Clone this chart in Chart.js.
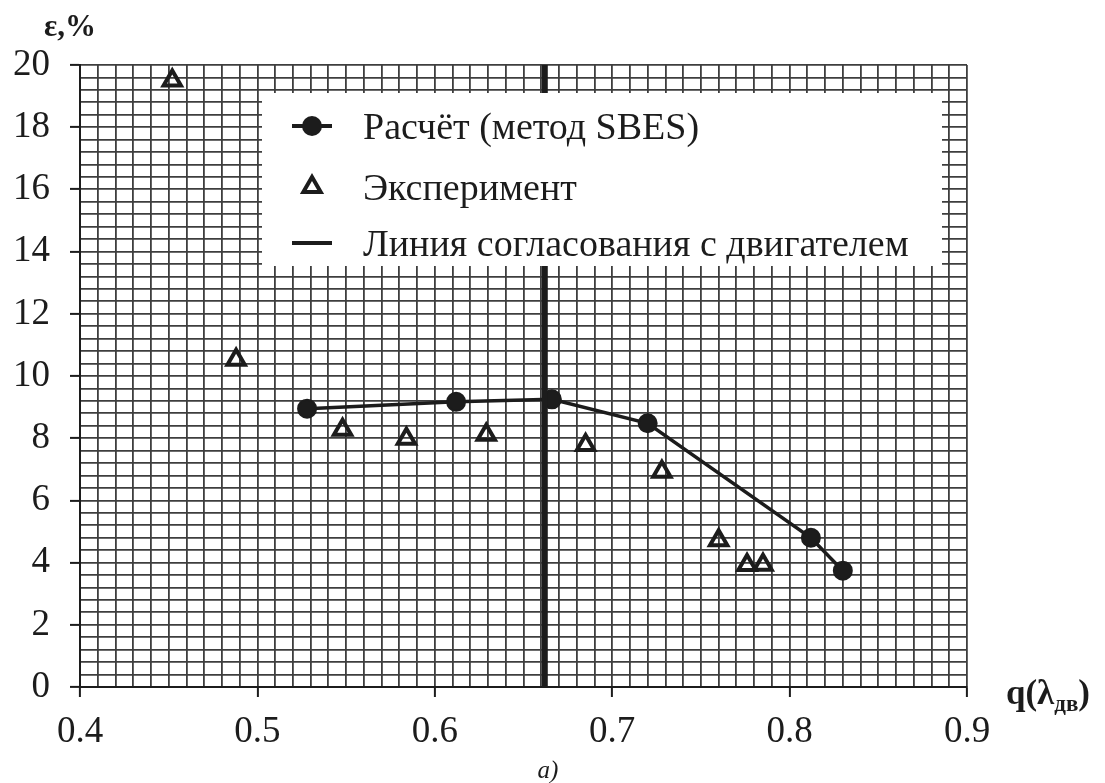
<!DOCTYPE html>
<html>
<head>
<meta charset="utf-8">
<script src="https://cdn.jsdelivr.net/npm/chart.js@4/dist/chart.umd.min.js"></script>
<style>
  html, body { margin: 0; padding: 0; background: #fff; }
  #wrap { width: 1105px; height: 783px; }
</style>
</head>
<body>
<div id="wrap"><canvas id="chart" width="1105" height="783"></canvas></div>
<script>
// расчёт (метод SBES)
const calcX = [0.528, 0.612, 0.666, 0.720, 0.812, 0.830];
const calcY = [8.95, 9.17, 9.25, 8.48, 4.80, 3.74];

// эксперимент
const expX = [0.452, 0.488, 0.548, 0.584, 0.629, 0.685, 0.728, 0.760, 0.776, 0.785];
const expY = [19.5, 10.52, 8.27, 7.98, 8.11, 7.78, 6.92, 4.72, 3.92, 3.93];

// линия согласования с двигателем
const matchX = [0.662, 0.662];
const matchY = [0, 20];

const xTicks = [0.4, 0.9, 0.01];   // min, max, шаг сетки
const yTicks = [0, 20, 0.4];

const seriesNames = ['Расчёт (метод SBES)', 'Эксперимент', 'Линия согласования с двигателем'];

const INK = '#1c1c1c';
const GRID = '#3e3e3e';
const SERIF = '"Liberation Serif", "DejaVu Serif", serif';

const toXY = (xs, ys) => xs.map((x, i) => ({ x: x, y: ys[i] }));

const isMajorX = v => Math.abs(v * 10 - Math.round(v * 10)) < 1e-6;
const isMajorY = v => Math.abs(v / 2 - Math.round(v / 2)) < 1e-6;

// легенда внутри поля графика + подписи осей
const extras = {
  id: 'extras',
  afterDatasetsDraw(chart) {
    const ctx = chart.ctx;
    const a = chart.chartArea;
    const bx = a.left + 182, by = a.top + 28, bw = 680, bh = 173;
    ctx.save();
    ctx.fillStyle = '#fff';
    ctx.fillRect(bx, by, bw, bh);

    const mx = a.left + 232, tx = a.left + 283;
    const rows = [a.top + 61, a.top + 122, a.top + 178];
    ctx.strokeStyle = INK;
    ctx.fillStyle = INK;

    // строка 1: линия с кружком
    ctx.lineWidth = 4;
    ctx.beginPath();
    ctx.moveTo(mx - 20, rows[0]); ctx.lineTo(mx + 20, rows[0]);
    ctx.stroke();
    ctx.beginPath();
    ctx.arc(mx, rows[0], 10, 0, Math.PI * 2);
    ctx.fill();

    // строка 2: треугольник
    const r = 10;
    ctx.lineWidth = 4;
    ctx.lineJoin = 'miter';
    ctx.beginPath();
    ctx.moveTo(mx, rows[1] - r);
    ctx.lineTo(mx + r * Math.sin(2 * Math.PI / 3), rows[1] - r * Math.cos(2 * Math.PI / 3));
    ctx.lineTo(mx + r * Math.sin(4 * Math.PI / 3), rows[1] - r * Math.cos(4 * Math.PI / 3));
    ctx.closePath();
    ctx.stroke();

    // строка 3: линия
    ctx.lineWidth = 4;
    ctx.beginPath();
    ctx.moveTo(mx - 20, rows[2]); ctx.lineTo(mx + 20, rows[2]);
    ctx.stroke();

    ctx.font = '38px ' + SERIF;
    ctx.textBaseline = 'middle';
    ctx.textAlign = 'left';
    seriesNames.forEach((s, i) => ctx.fillText(s, tx, rows[i] + 3));
    ctx.restore();
  },
  afterDraw(chart) {
    const ctx = chart.ctx;
    ctx.save();
    ctx.fillStyle = INK;
    ctx.textBaseline = 'alphabetic';
    ctx.textAlign = 'left';

    ctx.font = 'bold 31px ' + SERIF;
    ctx.fillText('ε,%', 44, 36);

    let x = 1006;
    const base = 704;
    ctx.font = 'bold 35px ' + SERIF;
    ctx.fillText('q(λ', x, base);
    x += ctx.measureText('q(λ').width;
    ctx.font = 'bold 23px ' + SERIF;
    ctx.fillText('дв', x, base + 7);
    x += ctx.measureText('дв').width;
    ctx.font = 'bold 35px ' + SERIF;
    ctx.fillText(')', x, base);

    ctx.font = 'italic 25px ' + SERIF;
    ctx.textAlign = 'center';
    ctx.fillText('а)', 548, 778);
    ctx.restore();
  }
};

new Chart(document.getElementById('chart'), {
  type: 'scatter',
  data: {
    datasets: [
      {
        label: seriesNames[2],
        data: toXY(matchX, matchY),
        showLine: true,
        borderColor: INK,
        borderWidth: 6,
        pointRadius: 0
      },
      {
        label: seriesNames[0],
        data: toXY(calcX, calcY),
        showLine: true,
        borderColor: INK,
        borderWidth: 3.5,
        pointRadius: 9,
        pointBackgroundColor: INK,
        pointBorderColor: INK,
        pointBorderWidth: 2
      },
      {
        label: seriesNames[1],
        data: toXY(expX, expY),
        showLine: false,
        pointStyle: 'triangle',
        pointRadius: 10,
        pointBackgroundColor: 'rgba(255,255,255,0)',
        pointBorderColor: INK,
        pointBorderWidth: 4
      }
    ]
  },
  options: {
    responsive: false,
    animation: false,
    layout: { padding: { top: 65, right: 138, left: 0, bottom: 0 } },
    plugins: {
      legend: { display: false },
      tooltip: { enabled: false }
    },
    scales: {
      x: {
        type: 'linear',
        min: xTicks[0],
        max: xTicks[1],
        afterFit: s => { s.height = 96; },
        border: { display: true, color: INK, width: 2 },
        grid: {
          color: GRID,
          lineWidth: 1.8,
          drawTicks: true,
          tickLength: 10,
          tickWidth: 2,
          tickColor: c => (c.tick && isMajorX(c.tick.value)) ? INK : 'rgba(0,0,0,0)'
        },
        ticks: {
          stepSize: xTicks[2],
          autoSkip: false,
          maxRotation: 0,
          padding: 13,
          color: INK,
          font: { family: SERIF, size: 37 },
          callback: v => isMajorX(v) ? v.toFixed(1) : ''
        }
      },
      y: {
        type: 'linear',
        min: yTicks[0],
        max: yTicks[1],
        afterFit: s => { s.width = 80; },
        border: { display: true, color: INK, width: 2 },
        grid: {
          color: GRID,
          lineWidth: 1.8,
          drawTicks: true,
          tickLength: 10,
          tickWidth: 2,
          tickColor: c => (c.tick && isMajorY(c.tick.value)) ? INK : 'rgba(0,0,0,0)'
        },
        ticks: {
          stepSize: yTicks[2],
          autoSkip: false,
          padding: 20,
          color: INK,
          font: { family: SERIF, size: 37 },
          callback: v => isMajorY(v) ? String(Math.round(v)) : ''
        }
      }
    }
  },
  plugins: [extras]
});
</script>
</body>
</html>
